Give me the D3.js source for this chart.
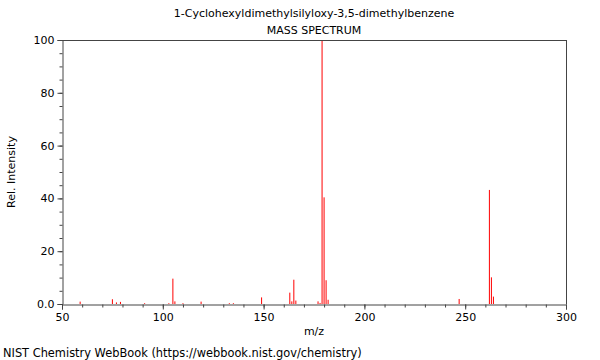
<!DOCTYPE html>
<html><head><meta charset="utf-8">
<script src="https://cdn.jsdelivr.net/npm/d3@7"></script>
<style>body{margin:0;background:#fff}svg{display:block}text{font-family:"DejaVu Sans",sans-serif;fill:#000}</style>
</head><body><svg id="c" width="600" height="360"></svg>
<script>
const title = "1-Cyclohexyldimethylsilyloxy-3,5-dimethylbenzene";
const subtitle = "MASS SPECTRUM";
const mz = [59,75,77,79,91,103,105,106,110,119,133,135,149,163,164,165,166,177,178,179,180,181,182,247,262,263,264];
const intensity = [0.9,1.8,0.6,0.8,0.3,0.3,9.6,1.0,0.3,0.9,0.3,0.3,2.5,4.3,1.0,9.2,1.3,1.0,0.4,100,40.4,9.0,1.6,1.9,43.2,10.1,2.8];
const xTicks = [50,100,150,200,250,300];
const yTicks = [0,20,40,60,80,100];
const yTickLabels = ["0.0","20","40","60","80","100"];

const svg = d3.select("#c");
const L=62,R=566,T=40,B=304;
const x = d3.scaleLinear().domain([50,300]).range([L,R]);
const y = d3.scaleLinear().domain([0,100]).range([B,T]);
const ax = "#444";

// peaks
svg.append("g").selectAll("line").data(mz.map((m,i)=>({m,v:intensity[i]}))).join("line")
  .attr("x1",d=>x(d.m)).attr("x2",d=>x(d.m)).attr("y1",y(0)).attr("y2",d=>y(d.v))
  .attr("stroke","red").attr("stroke-width",1);

// frame top/right
svg.append("line").attr("x1",L).attr("x2",R).attr("y1",T+0.5).attr("y2",T+0.5).attr("stroke",ax);
svg.append("line").attr("x1",R+0.5).attr("x2",R+0.5).attr("y1",T).attr("y2",B).attr("stroke",ax);

// x axis
const gx = svg.append("g").attr("transform",`translate(0,${B+0.5})`);
gx.call(d3.axisBottom(x).tickValues(d3.range(50,301,10)).tickSize(3).tickFormat(""))
  .call(g=>g.select(".domain").remove());
gx.append("g").call(d3.axisBottom(x).tickValues(xTicks).tickSize(5).tickFormat(d3.format("d")).tickPadding(4))
  .call(g=>g.selectAll("text").attr("font-size",11).attr("font-family","DejaVu Sans"));
gx.selectAll("line,path").attr("stroke",ax);

// y axis
const gy = svg.append("g").attr("transform",`translate(${L+0.5},0)`);
gy.call(d3.axisLeft(y).tickValues(d3.range(0,101,5)).tickSize(3).tickFormat(""))
  .call(g=>g.select(".domain").remove());
gy.append("g").call(d3.axisLeft(y).tickValues(yTicks).tickSize(5).tickFormat((d,i)=>yTickLabels[i]).tickPadding(3))
  .call(g=>g.selectAll("text").attr("font-size",11).attr("font-family","DejaVu Sans"));
gy.selectAll("line,path").attr("stroke",ax);

// texts
svg.append("text").attr("x",(L+R)/2).attr("y",17).attr("text-anchor","middle").attr("font-size",11).text(title);
svg.append("text").attr("x",(L+R)/2).attr("y",34).attr("text-anchor","middle").attr("font-size",11).text(subtitle);
svg.append("text").attr("x",(L+R)/2).attr("y",335).attr("text-anchor","middle").attr("font-size",11).text("m/z");
svg.append("text").attr("transform",`translate(15,${(T+B)/2}) rotate(-90)`).attr("text-anchor","middle").attr("font-size",11).text("Rel. Intensity");
svg.append("text").attr("x",3).attr("y",357).attr("font-size",11.4).text("NIST Chemistry WebBook (https://webbook.nist.gov/chemistry)");
</script></body></html>
